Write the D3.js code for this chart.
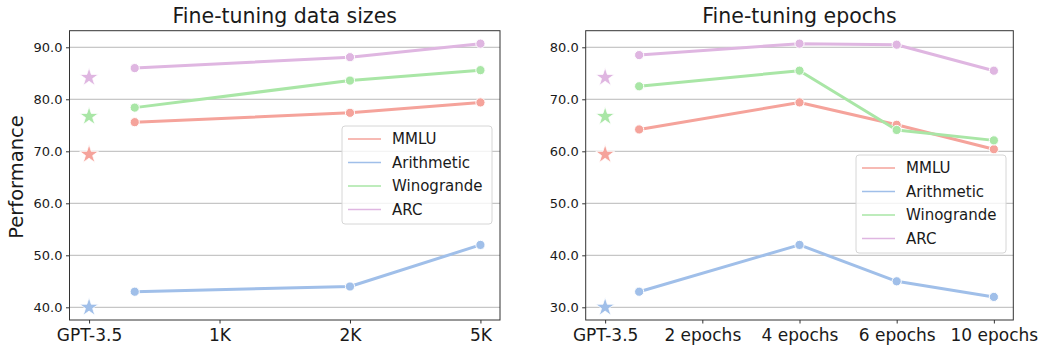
<!DOCTYPE html>
<html>
<head>
<meta charset="utf-8">
<script src="https://cdn.jsdelivr.net/npm/d3@7"></script>
<style>
  body { margin: 0; background: #fff; }
  svg text { font-family: "DejaVu Sans", sans-serif; fill: #1a1a1a; }
</style>
</head>
<body>
<div id="chart"></div>
<script>
// series names + colours
const seriesNames = ["MMLU", "Arithmetic", "Winogrande", "ARC"]
const colors = ["#f5a39b", "#a0bfe9", "#a9e6a6", "#dfb6e1"]

// left panel: data sizes
const sizeTicks = ["GPT-3.5", "1K", "2K", "5K"]
const sizeX = [0.35, 2, 3]          // where the fine-tuned points sit
const sizeGpt = [69.4, 40.0, 76.7, 84.2]
const sizeMMLU = [75.6, 77.4, 79.4]
const sizeArith = [43.0, 44.0, 52.0]
const sizeWino = [78.4, 83.6, 85.6]
const sizeARC = [86.0, 88.1, 90.7]

// right panel: epochs
const epochTicks = ["GPT-3.5", "2 epochs", "4 epochs", "6 epochs", "10 epochs"]
const epochX = [0.35, 2, 3, 4]
const epochGpt = [59.4, 30.0, 66.7, 74.2]
const epochMMLU = [64.2, 69.4, 65.1, 60.4]
const epochArith = [33.0, 42.0, 35.0, 32.0]
const epochWino = [72.5, 75.5, 64.1, 62.1]
const epochARC = [78.5, 80.7, 80.5, 75.5]

const leftYTicks = [40, 50, 60, 70, 80, 90]
const rightYTicks = [30, 40, 50, 60, 70, 80]

const svg = d3.select("#chart").append("svg")
    .attr("width", 1046)
    .attr("height", 351)

function panel(opts) {
  const g = svg.append("g")
  const x = d3.scaleLinear().domain(opts.xDomain).range([opts.left, opts.right])
  const y = d3.scaleLinear().domain(opts.yDomain).range([opts.bottom, opts.top])

  // grid
  g.selectAll("line.grid").data(opts.yTicks).join("line")
      .attr("x1", opts.left).attr("x2", opts.right)
      .attr("y1", d => y(d)).attr("y2", d => y(d))
      .attr("stroke", "#b0b0b0").attr("stroke-width", 0.9)

  // axes
  const xAxis = d3.axisBottom(x).tickValues(d3.range(opts.xTicks.length))
      .tickFormat(i => opts.xTicks[i]).tickSize(3.5).tickPadding(3)
  const gx = g.append("g").attr("transform", `translate(0,${opts.bottom})`).call(xAxis)
  gx.select(".domain").remove()
  gx.selectAll("text").attr("font-size", 17).attr("dy", "0.85em")
  gx.selectAll("line").attr("stroke", "#333")

  const yAxis = d3.axisLeft(y).tickValues(opts.yTicks)
      .tickFormat(d3.format(".1f")).tickSize(3.5).tickPadding(3.5)
  const gy = g.append("g").attr("transform", `translate(${opts.left},0)`).call(yAxis)
  gy.select(".domain").remove()
  gy.selectAll("text").attr("font-size", 13)
  gy.selectAll("line").attr("stroke", "#333")

  const line = d3.line().x(d => x(d[0])).y(d => y(d[1]))

  opts.series.forEach((vals, i) => {
    const pts = vals.map((v, j) => [opts.xs[j], v])
    g.append("path").attr("d", line(pts))
        .attr("fill", "none").attr("stroke", colors[i])
        .attr("stroke-width", 3).attr("stroke-linejoin", "round").attr("stroke-linecap", "round")
    g.selectAll(null).data(pts).join("circle")
        .attr("cx", d => x(d[0])).attr("cy", d => y(d[1])).attr("r", 4.6)
        .attr("fill", colors[i]).attr("stroke", "#fff").attr("stroke-width", 1)
    g.append("path")
        .attr("d", d3.symbol(d3.symbolStar, 110)())
        .attr("transform", `translate(${x(0)},${y(opts.gpt[i])})`)
        .attr("fill", colors[i]).attr("stroke", "#fff").attr("stroke-width", 0.8)
  })

  // frame
  g.append("rect")
      .attr("x", opts.left).attr("y", opts.top)
      .attr("width", opts.right - opts.left).attr("height", opts.bottom - opts.top)
      .attr("fill", "none").attr("stroke", "#333").attr("stroke-width", 1)

  // title
  g.append("text").attr("x", (opts.left + opts.right) / 2).attr("y", 23)
      .attr("text-anchor", "middle").attr("font-size", 20.5).text(opts.title)

  // legend
  const lg = g.append("g").attr("transform", `translate(${opts.legX},${opts.legY})`)
  lg.append("rect").attr("width", 150).attr("height", 98).attr("rx", 3)
      .attr("fill", "#fff").attr("fill-opacity", 0.8).attr("stroke", "#d6d6d6")
  seriesNames.forEach((name, i) => {
    const yy = 13 + i * 23.5
    lg.append("line").attr("x1", 6).attr("x2", 39).attr("y1", yy).attr("y2", yy)
        .attr("stroke", colors[i]).attr("stroke-width", 1.6)
    lg.append("text").attr("x", 50).attr("y", yy).attr("dy", "0.36em")
        .attr("font-size", 15).text(name)
  })
}

panel({
  left: 69.5, right: 500, top: 30.7, bottom: 320,
  xDomain: [-0.15, 3.15], yDomain: [37.56, 93.19],
  xTicks: sizeTicks, yTicks: leftYTicks, xs: sizeX,
  series: [sizeMMLU, sizeArith, sizeWino, sizeARC], gpt: sizeGpt,
  title: "Fine-tuning data sizes", legX: 342, legY: 126
})

panel({
  left: 585.7, right: 1013.3, top: 30.7, bottom: 320,
  xDomain: [-0.2, 4.2], yDomain: [27.56, 83.19],
  xTicks: epochTicks, yTicks: rightYTicks, xs: epochX,
  series: [epochMMLU, epochArith, epochWino, epochARC], gpt: epochGpt,
  title: "Fine-tuning epochs", legX: 856, legY: 155
})

svg.append("text")
    .attr("transform", "translate(23,177) rotate(-90)")
    .attr("text-anchor", "middle").attr("font-size", 19.5)
    .text("Performance")
</script>
</body>
</html>
